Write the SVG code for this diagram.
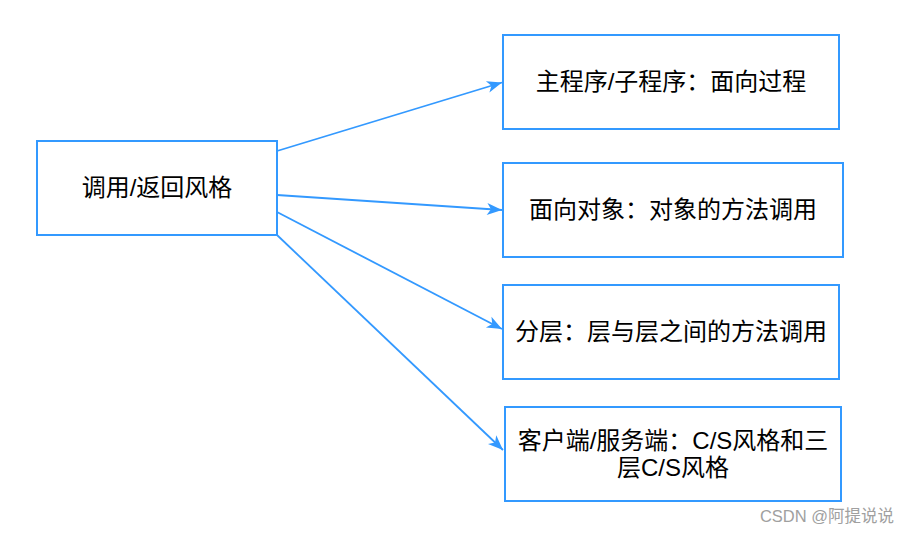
<svg xmlns="http://www.w3.org/2000/svg" width="910" height="534" viewBox="0 0 910 534">
<style>
.box{fill:#ffffff;stroke:#3399ff;stroke-width:2}
.lbl{font-family:"Liberation Sans","Noto Sans CJK SC",sans-serif;font-size:24px;fill:#000;text-anchor:middle}
.conn{stroke:#3399ff;stroke-width:1.8;fill:none;marker-end:url(#arr)}
.wm{font-family:"Liberation Sans","Noto Sans CJK SC",sans-serif;font-size:16.5px;fill:#a0a0a0;text-anchor:end}
</style>
<defs>
<marker id="arr" markerUnits="userSpaceOnUse" markerWidth="18" markerHeight="14" refX="15" refY="6" orient="auto" overflow="visible">
<path d="M0,0 L15,6 L0,12 L4,6 Z" fill="#3399ff"/>
</marker>
</defs>
<rect width="910" height="534" fill="#ffffff"/>
<g id="connectors">
<line class="conn" x1="277" y1="151" x2="502" y2="82.5"/>
<line class="conn" x1="277" y1="195" x2="502" y2="210"/>
<line class="conn" x1="277" y1="212" x2="502" y2="329"/>
<line class="conn" x1="277" y1="235" x2="503" y2="450"/>
</g>
<g id="n0">
<rect class="box" x="37" y="141" width="240" height="94"/>
<text class="lbl" x="157" y="196">调用/返回风格</text>
</g>
<g id="n1">
<rect class="box" x="503" y="35" width="336" height="94"/>
<text class="lbl" x="671" y="90">主程序/子程序：面向过程</text>
</g>
<g id="n2">
<rect class="box" x="503" y="163" width="340" height="94"/>
<text class="lbl" x="673" y="218">面向对象：对象的方法调用</text>
</g>
<g id="n3">
<rect class="box" x="503" y="285" width="336" height="94"/>
<text class="lbl" x="671" y="340">分层：层与层之间的方法调用</text>
</g>
<g id="n4">
<rect class="box" x="505" y="407" width="336" height="94"/>
<text class="lbl" x="673" y="449">客户端/服务端：C/S风格和三</text>
<text class="lbl" x="673" y="476">层C/S风格</text>
</g>
<text class="wm" x="894" y="522">CSDN @阿提说说</text>
</svg>
